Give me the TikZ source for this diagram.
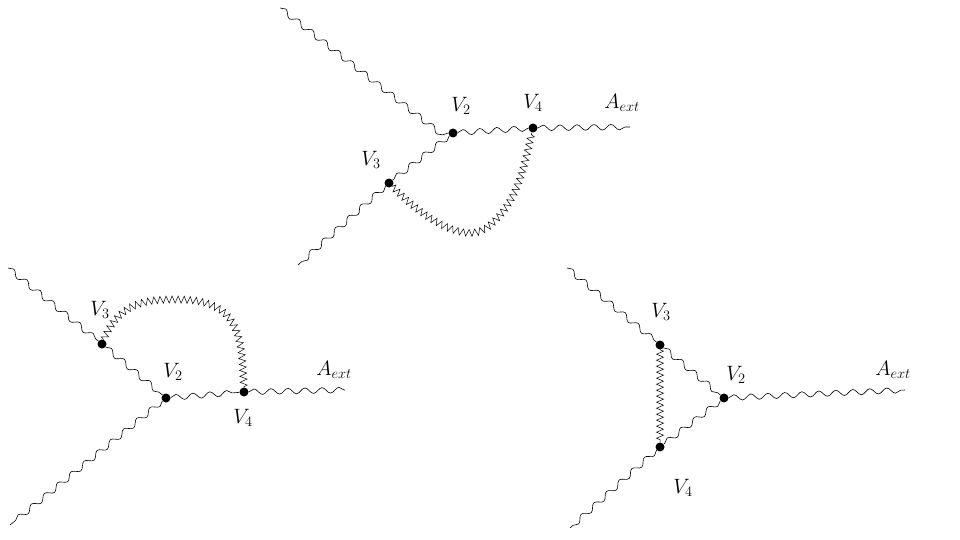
\documentclass[tikz,border=0pt]{standalone}
\usetikzlibrary{decorations.pathmorphing}
\begin{document}
\begin{tikzpicture}[x=1pt,y=-1pt,
  wv/.style={decorate,decoration={snake,segment length=17,amplitude=2.8},line width=0.6pt},
  zz/.style={decorate,decoration={zigzag,segment length=6,amplitude=3.5},line width=0.5pt},
  vx/.style={circle,fill=black,inner sep=0,minimum size=9pt},
  lb/.style={font=\fontsize{20}{24}\selectfont}]
\useasboundingbox (0,0) rectangle (960,540);
% top
\node[vx] (tV2) at (453,133) {};
\node[vx] (tV4) at (533,128) {};
\node[vx] (tV3) at (389,183) {};
\coordinate (ta) at (280,8);
\coordinate (tb) at (440,133);
\coordinate (tc) at (298,265);
\coordinate (te) at (630,127);
\draw[wv] (ta) -- (tb) -- (tV2);
\draw[wv] (tV2) -- (tV4);
\draw[wv] (tV4) -- (te);
\draw[wv] (tV2) -- (tV3);
\draw[wv] (tV3) -- (tc);
\draw[zz] (tV3) .. controls (430,225) and (470,245) .. (490,225) .. controls (520,200) and (525,160) .. (tV4);
\node[lb] at (461,106) {$V_2$};
\node[lb] at (533,103) {$V_4$};
\node[lb] at (371,160) {$V_3$};
\node[lb] at (622,103) {$A_{ext}$};
% left
\node[vx] (lV3) at (102,344) {};
\node[vx] (lV2) at (166,398) {};
\node[vx] (lV4) at (244,392) {};
\coordinate (la) at (8,268);
\coordinate (lc) at (10,525);
\coordinate (le) at (345,390);
\draw[wv] (la) -- (lV3);
\draw[wv] (lV3) -- (lV2);
\draw[wv] (lV2) -- (lc);
\draw[wv] (lV2) -- (lV4);
\draw[wv] (lV4) -- (le);
\draw[zz] (lV3) .. controls (120,300) and (150,298) .. (190,300) .. controls (240,305) and (242,340) .. (lV4);
\node[lb] at (100,310) {$V_3$};
\node[lb] at (173,372) {$V_2$};
\node[lb] at (243,418) {$V_4$};
\node[lb] at (334,370) {$A_{ext}$};
% right
\node[vx] (rV3) at (660,345) {};
\node[vx] (rV2) at (724,398) {};
\node[vx] (rV4) at (660,447) {};
\coordinate (ra) at (567,268);
\coordinate (rc) at (570,528);
\coordinate (re) at (905,390);
\draw[wv] (ra) -- (rV3);
\draw[wv] (rV3) -- (rV2);
\draw[wv] (rV2) -- (rV4);
\draw[wv] (rV4) -- (rc);
\draw[wv] (rV2) -- (re);
\draw[zz] (rV3) -- (rV4);
\node[lb] at (661,312) {$V_3$};
\node[lb] at (736,375) {$V_2$};
\node[lb] at (683,488) {$V_4$};
\node[lb] at (893,370) {$A_{ext}$};
\end{tikzpicture}
\end{document}
